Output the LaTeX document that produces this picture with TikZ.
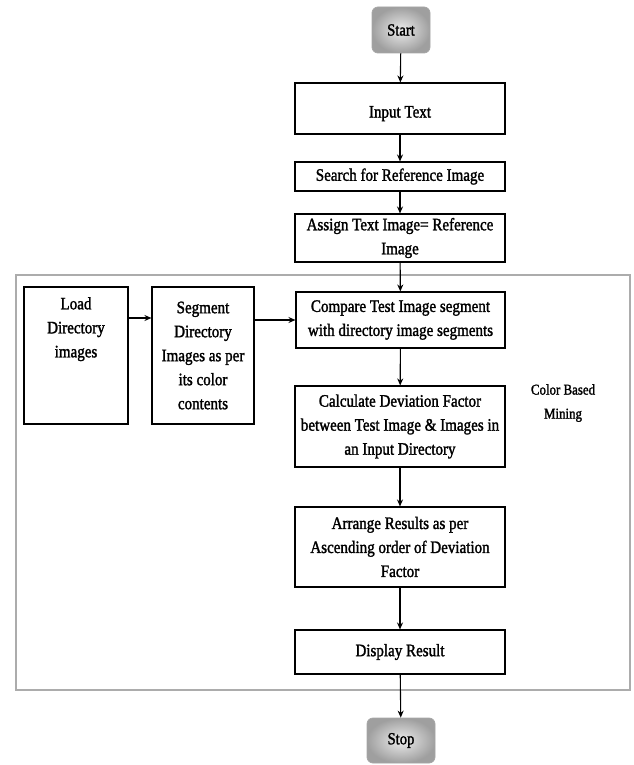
\documentclass[tikz,border=0pt]{standalone}
\usepackage{fontspec}
\setmainfont{Liberation Serif}[FakeStretch=0.86,FakeBold=1.6]
\usetikzlibrary{arrows.meta}
\begin{document}
\begin{tikzpicture}[x=1pt,y=-1pt,
  box/.style={draw=black,line width=1.1pt,fill=white,align=center,inner sep=2pt,
    font=\fontsize{17.5}{24}\selectfont},
  term/.style={draw=gray!70,line width=0.8pt,rounded corners=6pt,inner color=gray!15,outer color=gray!75,
    font=\fontsize{17}{18}\selectfont},
  arr/.style={-{Stealth[length=7pt,width=6pt]},line width=1.1pt,black},
  frame/.style={draw=gray!65,line width=1.6pt}]
\useasboundingbox (0,0) rectangle (633,765);
\draw[frame] (16,275) rectangle (630,690);
\node[term,minimum width=58pt,minimum height=46pt] (start) at (401,30) {Start};
\node[box,minimum width=210pt,minimum height=51pt,text height=22pt,text depth=4pt] (input) at (400,108.5) {Input Text};
\node[box,minimum width=210pt,minimum height=29pt] (search) at (400,176.5) {Search for Reference Image};
\node[box,minimum width=210pt,minimum height=48pt] (assign) at (400,238) {Assign Text Image= Reference\\Image};
\node[box,minimum width=104pt,minimum height=137pt] (load) at (76,355.5) {};
\node[font=\fontsize{17.5}{24}\selectfont,align=center,anchor=north,inner sep=0pt] (loadtxt) at (76,297) {Load\\Directory\\images};
\node[box,minimum width=102pt,minimum height=137pt] (segment) at (203,355.5) {Segment\\Directory\\Images as per\\its color\\contents};
\node[box,minimum width=209pt,minimum height=56pt] (compare) at (400.5,320) {Compare Test Image segment\\with directory image segments};
\node[box,minimum width=210pt,minimum height=81pt] (calc) at (400,426.5) {Calculate Deviation Factor\\between Test Image \& Images in\\an Input Directory};
\node[box,minimum width=210pt,minimum height=80pt] (arrange) at (400,547) {Arrange Results as per\\Ascending order of Deviation\\Factor};
\node[box,minimum width=210pt,minimum height=44pt] (display) at (400,652) {Display Result};
\node[term,minimum width=68pt,minimum height=45pt] (stop) at (401,740.5) {Stop};
\node[align=center,font=\fontsize{15}{24}\selectfont] (cbm) at (563,403) {Color Based\\Mining};
\draw[arr] (start) -- (input);
\draw[arr] (input) -- (search);
\draw[arr] (search) -- (assign);
\draw[arr] (assign) -- (compare);
\draw[arr] (compare) -- (calc);
\draw[arr] (calc) -- (arrange);
\draw[arr] (arrange) -- (display);
\draw[arr] (display) -- (stop);
\draw[arr] (load.east |- 0,318) -- (segment.west |- 0,318);
\draw[arr] (segment.east |- compare.west) -- (compare.west);
\end{tikzpicture}
\end{document}
